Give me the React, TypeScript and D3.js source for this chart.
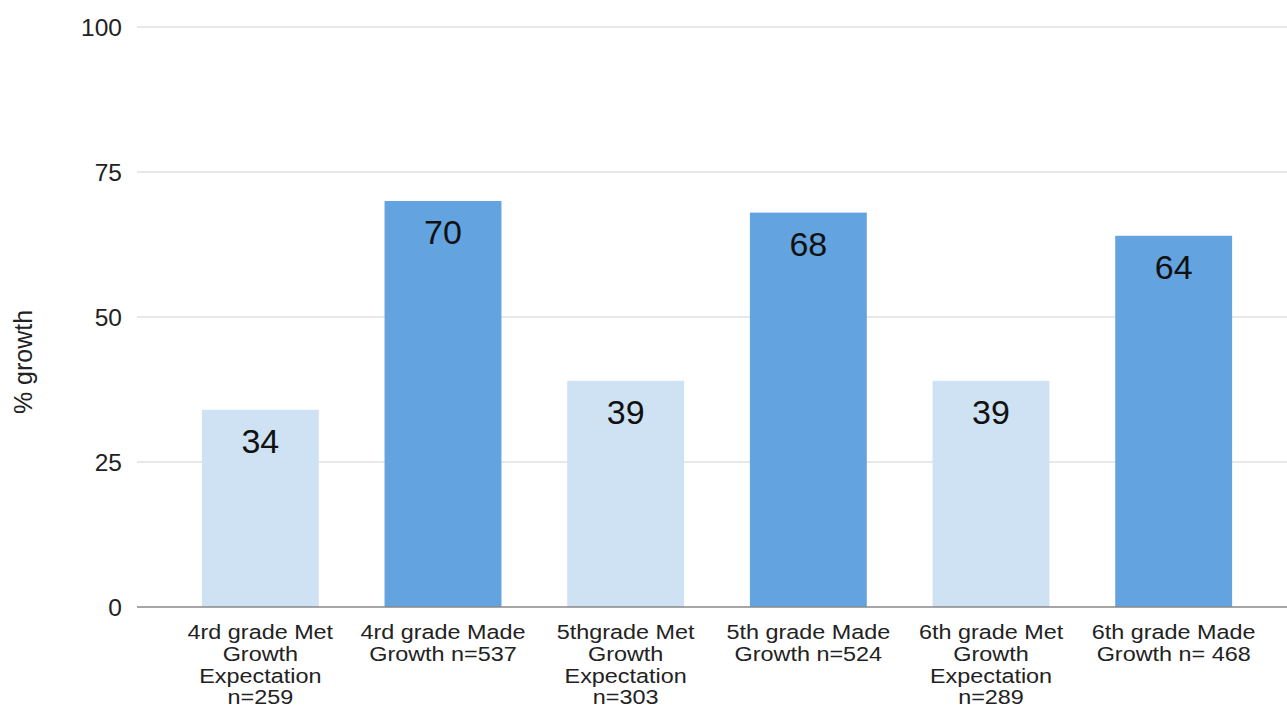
import React from "react";
import * as d3 from "d3";

const categories: string[][] = [
  ["4rd grade Met", "Growth", "Expectation", "n=259"],
  ["4rd grade Made", "Growth n=537"],
  ["5thgrade Met", "Growth", "Expectation", "n=303"],
  ["5th grade Made", "Growth n=524"],
  ["6th grade Met", "Growth", "Expectation", "n=289"],
  ["6th grade Made", "Growth n= 468"],
];
const values: number[] = [34, 70, 39, 68, 39, 64];
const barColors: string[] = ["#cfe2f3", "#62a3e0", "#cfe2f3", "#62a3e0", "#cfe2f3", "#62a3e0"];
const yTicks: number[] = [0, 25, 50, 75, 100];
const yTitle = "% growth";

export default function App() {
  const W = 1287, H = 712;
  const y = d3.scaleLinear().domain([0, 100]).range([607, 27]);
  const x = d3.scaleBand<number>().domain(d3.range(values.length)).range([169, 1265]).paddingInner(0.36).paddingOuter(0.18);
  const font = "'Liberation Sans', Arial, sans-serif";
  return (
    <svg width={W} height={H} style={{ position: "absolute", left: 0, top: 0, background: "#fff" }} fontFamily={font}>
      {yTicks.map((t) => (
        <g key={t}>
          {t !== 0 && <line x1={137} x2={W} y1={y(t)} y2={y(t)} stroke="#e0e0e0" strokeWidth={1.3} />}
          <text x={122} y={y(t)} dy="0.36em" textAnchor="end" fontSize={24.5} fill="#222">{t}</text>
        </g>
      ))}
      <text transform={`translate(32,${362}) rotate(-90)`} textAnchor="middle" fontSize={25} fill="#222">{yTitle}</text>
      {values.map((v, i) => (
        <g key={i}>
          <rect x={x(i)!} y={y(v)} width={x.bandwidth()} height={y(0) - y(v)} fill={barColors[i]} />
          <text x={x(i)! + x.bandwidth() / 2} y={y(v) + 43} textAnchor="middle" fontSize={34} fill="#111">{v}</text>
          {categories[i].map((line, j) => (
            <text key={j} transform={`translate(${x(i)! + x.bandwidth() / 2},${639 + j * 21.8}) scale(1.2,1)`} textAnchor="middle" fontSize={19.5} fill="#222">{line}</text>
          ))}
        </g>
      ))}
      <line x1={137} x2={W} y1={y(0)} y2={y(0)} stroke="#888" strokeWidth={1.5} />
    </svg>
  );
}
